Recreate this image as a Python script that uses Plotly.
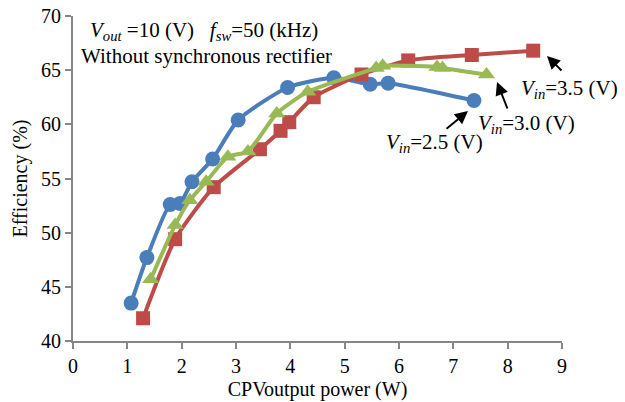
import plotly.graph_objects as go

# Data
x_25 = [1.07, 1.36, 1.79, 1.97, 2.19, 2.57, 3.04, 3.95, 4.80, 5.47, 5.80, 7.38]
y_25 = [43.5, 47.7, 52.6, 52.7, 54.7, 56.8, 60.4, 63.4, 64.3, 63.7, 63.8, 62.2]

x_35 = [1.29, 1.88, 2.59, 3.44, 3.82, 3.98, 4.43, 5.31, 6.17, 7.34, 8.47]
y_35 = [42.1, 49.4, 54.2, 57.7, 59.4, 60.2, 62.5, 64.6, 65.9, 66.4, 66.8]

x_30 = [1.43, 1.88, 2.15, 2.45, 2.85, 3.22, 3.75, 4.32, 5.58, 5.70, 6.70, 6.80, 7.61]
y_30 = [45.7, 50.7, 53.0, 54.7, 57.0, 57.5, 61.0, 63.0, 65.2, 65.4, 65.3, 65.2, 64.6]

x_ticks = [0, 1, 2, 3, 4, 5, 6, 7, 8, 9]
y_ticks = [40, 45, 50, 55, 60, 65, 70]

FONT = "Liberation Serif, Times New Roman, serif"
BLUE = "#4A7EBB"
RED = "#BE4B48"
GREEN = "#98B954"

fig = go.Figure()
fig.add_trace(go.Scatter(x=x_25, y=y_25, mode="lines+markers", line=dict(color=BLUE, width=4, shape="spline", smoothing=0.6),
                         marker=dict(symbol="circle", size=15, color=BLUE), name="Vin=2.5", cliponaxis=False))
fig.add_trace(go.Scatter(x=x_35, y=y_35, mode="lines+markers", line=dict(color=RED, width=4, shape="spline", smoothing=0.6),
                         marker=dict(symbol="square", size=14, color=RED), name="Vin=3.5", cliponaxis=False))
fig.add_trace(go.Scatter(x=x_30, y=y_30, mode="lines+markers", line=dict(color=GREEN, width=4, shape="spline", smoothing=0.6),
                         marker=dict(symbol="triangle-up", size=15, color=GREEN), name="Vin=3.0", cliponaxis=False))

W, H = 625, 402
PL, PR, PT, PB = 73, 562, 16, 341   # plot area in page pixels
L, R, T, B = PL, W - PR, PT, H - PB
pw, ph = PR - PL, PB - PT

def px(xp):
    return (xp - PL) / pw

def py(yp):
    return (PB - yp) / ph

def dx(xp):
    return (xp - PL) / pw * 9

def dy(yp):
    return 70 - (yp - PT) / ph * 30

ann = []
tf = dict(family=FONT, size=21, color="black")
ann.append(dict(x=px(88), y=py(31), xref="paper", yref="paper", xanchor="left", yanchor="middle", showarrow=False,
                text="<i>V<sub>out</sub></i> =10 (V)   <i>f<sub>sw</sub></i>=50 (kHz)", font=tf))
ann.append(dict(x=px(79), y=py(56), xref="paper", yref="paper", xanchor="left", yanchor="middle", showarrow=False,
                text="Without synchronous rectifier", font=tf))
ann.append(dict(x=px(384), y=py(143), xref="paper", yref="paper", xanchor="left", yanchor="middle", showarrow=False,
                text="<i>V<sub>in</sub></i>=2.5 (V)", font=tf))
ann.append(dict(x=px(476), y=py(124), xref="paper", yref="paper", xanchor="left", yanchor="middle", showarrow=False,
                text="<i>V<sub>in</sub></i>=3.0 (V)", font=tf))
ann.append(dict(x=px(519), y=py(89), xref="paper", yref="paper", xanchor="left", yanchor="middle", showarrow=False,
                text="<i>V<sub>in</sub></i>=3.5 (V)", font=tf))

# arrows (head in data coords, tail offset in px)
for (hx, hy, tx, ty) in [(468, 111, 445, 130), (497, 82, 508, 110), (547, 56, 563, 72)]:
    ann.append(dict(x=dx(hx), y=dy(hy), xref="x", yref="y", ax=tx - hx, ay=ty - hy, axref="pixel", ayref="pixel",
                    text="", showarrow=True, arrowhead=2, arrowsize=1.3, arrowwidth=2, arrowcolor="black"))

fig.update_layout(
    width=W, height=H, margin=dict(l=L, r=R, t=T, b=B, autoexpand=False),
    paper_bgcolor="white", plot_bgcolor="white", showlegend=False,
    font=dict(family=FONT, size=20, color="black"),
    annotations=ann,
)
fig.update_xaxes(range=[0, 9], tickvals=x_ticks, showgrid=False, zeroline=False, showline=True, linecolor="#868686",
                 linewidth=2, ticks="outside", ticklen=6, tickcolor="#868686", tickwidth=2, automargin=False,
                 title=dict(text="CPVoutput power (W)", standoff=6, font=dict(size=20)), tickfont=dict(size=20))
fig.update_yaxes(range=[40, 70], tickvals=y_ticks, showgrid=False, zeroline=False, showline=True, linecolor="#868686",
                 linewidth=2, ticks="outside", ticklen=6, tickcolor="#868686", tickwidth=2, automargin=False,
                 title=dict(text="Efficiency (%)", standoff=8, font=dict(size=20)), tickfont=dict(size=20))

fig.write_html("out.html", config={"displayModeBar": False},
               post_script="document.body.style.margin='0px';document.body.style.overflow='hidden';")
